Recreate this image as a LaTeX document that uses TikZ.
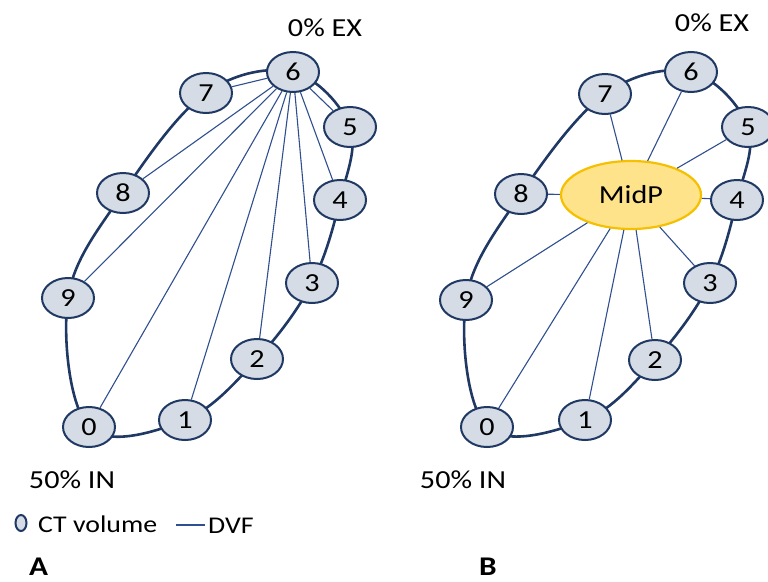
\documentclass[tikz,border=0pt]{standalone}
\usepackage{fontspec}
\setmainfont{Carlito}[FakeStretch=1.16]
\usetikzlibrary{shapes.geometric,backgrounds}
\definecolor{navy}{HTML}{1F3864}
\definecolor{volfill}{HTML}{D6DCE5}
\definecolor{dvfblue}{HTML}{2F4F8F}
\definecolor{midfill}{HTML}{FFE38A}
\definecolor{midedge}{HTML}{F5C000}
\begin{document}
\begin{tikzpicture}[x=1pt,y=-1pt,
  every node/.style={inner sep=0pt},
  vol/.style={ellipse, draw=navy, line width=2pt, fill=volfill,
    minimum width=52pt, minimum height=40pt,
    font=\fontsize{26}{28}\selectfont},
  midp/.style={ellipse, draw=midedge, line width=2.2pt, fill=midfill,
    minimum width=140pt, minimum height=68pt,
    font=\fontsize{26}{28}\selectfont},
  phase/.style={font=\fontsize{26}{28}\selectfont},
  legtext/.style={anchor=base west, font=\fontsize{24}{26}\selectfont},
  panel/.style={anchor=base west, font=\fontsize{27}{29}\selectfont\bfseries},
  ring/.style={draw=navy, line width=2.6pt},
  dvf/.style={draw=dvfblue, line width=1.1pt},
  legvol/.style={ellipse, draw=navy, line width=2pt, fill=volfill,
    minimum width=11pt, minimum height=16pt}]
\useasboundingbox (0,0) rectangle (768,581);

% ---------- panel A: every volume registered to 0% EX ----------
\node[vol] (a0) at (89,427) {0};
\node[vol] (a1) at (185,420) {1};
\node[vol] (a2) at (257,359) {2};
\node[vol] (a3) at (312,283) {3};
\node[vol] (a4) at (340,200) {4};
\node[vol] (a5) at (350,127) {5};
\node[vol] (a6) at (293,72) {6};
\node[vol] (a7) at (206,93) {7};
\node[vol] (a8) at (123,193) {8};
\node[vol] (a9) at (68,298) {9};

\begin{pgfonlayer}{background}
  \draw[ring] plot[smooth cycle, tension=0.6] coordinates
    {(a0) (a1) (a2) (a3) (a4) (a5) (a6) (a7) (a8) (a9)};
\end{pgfonlayer}

\foreach \n in {0,1,2,3,4,5,7,8,9}
  \draw[dvf] (a6) -- (a\n);

\node[phase] (exA) at (325,28) {0\% EX};
\node[phase] (inA) at (72,480) {50\% IN};

% ---------- panel B: every volume registered to the mid-position ----------
\node[vol] (b0) at (487,427) {0};
\node[vol] (b1) at (585,420) {1};
\node[vol] (b2) at (655,360) {2};
\node[vol] (b3) at (710,283) {3};
\node[vol] (b4) at (737,200) {4};
\node[vol] (b5) at (748,127) {5};
\node[vol] (b6) at (691,72) {6};
\node[vol] (b7) at (605,94) {7};
\node[vol] (b8) at (521,194) {8};
\node[vol] (b9) at (466,300) {9};
\node[midp] (mid) at (631,195) {MidP};

\begin{pgfonlayer}{background}
  \draw[ring] plot[smooth cycle, tension=0.6] coordinates
    {(b0) (b1) (b2) (b3) (b4) (b5) (b6) (b7) (b8) (b9)};
\end{pgfonlayer}

\foreach \n in {0,...,9}
  \draw[dvf] (mid) -- (b\n);

\node[phase] (exB) at (712,23) {0\% EX};
\node[phase] (inB) at (463,480) {50\% IN};

% ---------- legend and panel letters ----------
\node[legvol] (legv) at (21,523) {};
\node[legtext] (legt) at (38,532) {CT volume};
\coordinate (dvfl) at (176,525);
\coordinate (dvfr) at (205,525);
\draw[dvf] (dvfl) -- (dvfr);
\node[legtext] (legd) at (208,533) {DVF};

\node[panel] (pA) at (29,575) {A};
\node[panel] (pB) at (479,575) {B};
\end{tikzpicture}
\end{document}
